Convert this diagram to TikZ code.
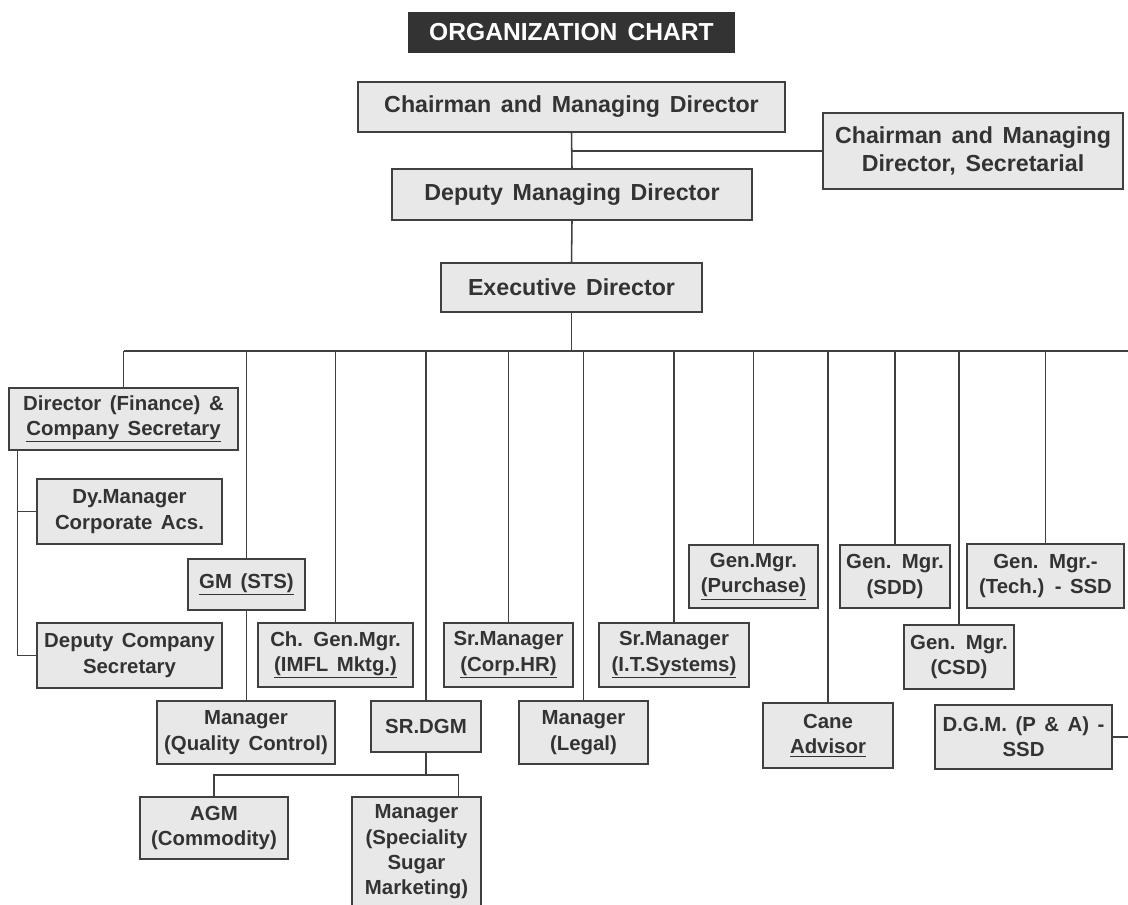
\documentclass[tikz,border=0pt]{standalone}
\usepackage{fontspec}
\setmainfont{Liberation Sans}[WordSpace=1.5]
\usetikzlibrary{calc}
\definecolor{boxfill}{HTML}{E8E8E8}
\definecolor{boxline}{HTML}{404040}
\definecolor{ink}{HTML}{333333}
\tikzset{boxsize/.style 2 args={minimum width=#1*0.025cm,minimum height=#2*0.025cm}}

\begin{document}
\begin{tikzpicture}[x=0.025cm,y=-0.025cm,
  poste/.style={draw=boxline,fill=boxfill,line width=1.2pt,text=ink,align=center,inner sep=0pt,
    font=\fontsize{14.5}{18}\selectfont\bfseries},
  haut/.style={font=\fontsize{16.5}{19.5}\selectfont\bfseries},
  titre/.style={fill=ink,text=white,inner sep=0pt,font=\fontsize{17.5}{20}\selectfont\bfseries},
  lien/.style={draw=boxline,line width=1.1pt}]

  % cadre de l'image
  \clip (0,0) rectangle (1128,905);

  % titre
  \node[titre,boxsize={327}{41}] (title) at (571.5,32.5) {ORGANIZATION CHART};

  % direction
  \node[poste,haut,boxsize={427}{50}] (cmd) at (571.5,107) {Chairman and Managing Director};
  \node[poste,haut,boxsize={300}{76}] (sec) at (973,151) {Chairman and Managing\\Director, Secretarial};
  \node[poste,haut,boxsize={360}{51}] (dmd) at (572,194.5) {Deputy Managing Director};
  \node[poste,haut,boxsize={261}{49}] (ed) at (571.5,287.5) {Executive Director};

  \draw[lien] (cmd.south) -- (dmd.north);
  \draw[lien] (sec.west) -- (sec.west -| cmd.south);
  \draw[lien] (dmd.south) -- (ed.north);

  % services
  \node[poste,boxsize={229}{62}] (dirfin) at (123.5,419) {Director (Finance) \&\\\underline{Company Secretary}};
  \node[poste,boxsize={185}{65}] (dymgr) at (129.5,511.5) {Dy.Manager\\Corporate Acs.};
  \node[poste,boxsize={185}{65}] (dcs) at (129.5,655.5) {Deputy Company\\Secretary};
  \node[poste,boxsize={117}{51}] (gmsts) at (246.5,584.5) {\underline{GM (STS)}};
  \node[poste,boxsize={155}{64}] (chgm) at (335.5,655) {Ch. Gen.Mgr.\\\underline{(IMFL Mktg.)}};
  \node[poste,boxsize={178}{63}] (mqc) at (246,732.5) {Manager\\(Quality Control)};
  \node[poste,boxsize={110}{51}] (srdgm) at (426,726.5) {SR.DGM};
  \node[poste,boxsize={148}{62}] (agm) at (214,828) {AGM\\(Commodity)};
  \node[poste,boxsize={129}{110}] (mssm) at (416.5,852) {Manager\\(Speciality\\Sugar\\Marketing)};
  \node[poste,boxsize={129}{64}] (srhr) at (508.5,655) {Sr.Manager\\\underline{(Corp.HR)}};
  \node[poste,boxsize={129}{63}] (mleg) at (583.5,732.5) {Manager\\(Legal)};
  \node[poste,boxsize={150}{64}] (srit) at (674,655) {Sr.Manager\\\underline{(I.T.Systems)}};
  \node[poste,boxsize={129}{63}] (gmpur) at (753.5,576.5) {Gen.Mgr.\\\underline{(Purchase)}};
  \node[poste,boxsize={110}{63}] (gmsdd) at (895,576.5) {Gen. Mgr.\\(SDD)};
  \node[poste,boxsize={157}{64}] (gmtech) at (1045.5,576) {Gen. Mgr.-\\(Tech.) - SSD};
  \node[poste,boxsize={130}{65}] (cane) at (828,735.5) {Cane\\\underline{Advisor}};
  \node[poste,boxsize={110}{64}] (gmcsd) at (959,657) {Gen. Mgr.\\(CSD)};
  \node[poste,boxsize={177}{64}] (dgm) at (1023.5,737) {D.G.M. (P \& A) -\\SSD};

  % barre horizontale
  \coordinate (bus) at (0,351);
  \coordinate (busR) at (1140,351);
  \draw[lien] (dirfin.north |- bus) -- (busR);
  \draw[lien] (ed.south) -- (ed.south |- bus);
  \foreach \n in {dirfin,gmsts,chgm,srdgm,srhr,mleg,srit,gmpur,gmsdd,cane,gmcsd,gmtech}
    \draw[lien] (\n.north) -- (\n.north |- bus);
  \draw[lien] (dgm.east) -| (busR);

  % rattachements secondaires
  \coordinate (trunk) at ($(dirfin.south west)!0.04!(dirfin.south east)$);
  \draw[lien] (trunk) |- (dcs.west);
  \draw[lien] (trunk |- dymgr.west) -- (dymgr.west);
  \draw[lien] (gmsts.south) -- (gmsts.south |- mqc.north);

  \coordinate (fork) at (0,775);
  \coordinate (mssmtop) at ($(mssm.north)!0.64!(mssm.north east)$);
  \draw[lien] (srdgm.south) -- (srdgm.south |- fork);
  \draw[lien] (agm.north) |- (mssmtop |- fork) -- (mssmtop);
\end{tikzpicture}
\end{document}
